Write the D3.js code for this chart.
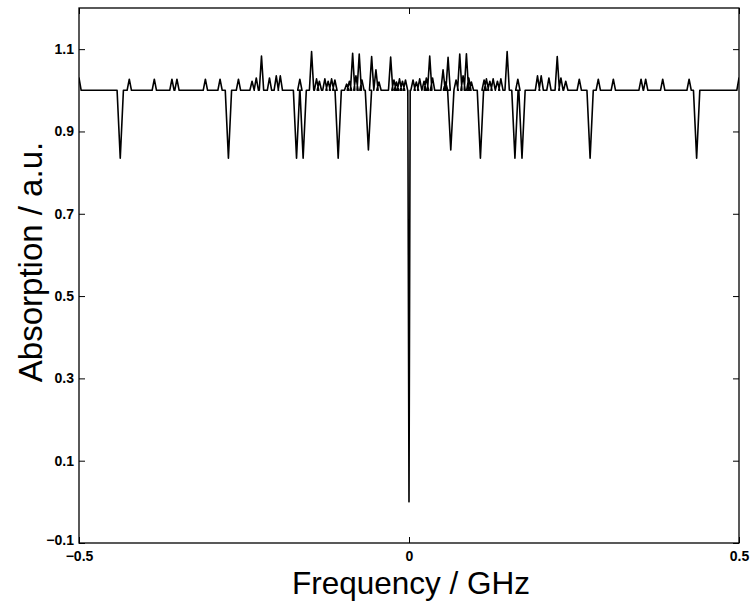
<!DOCTYPE html>
<html>
<head>
<meta charset="utf-8">
<script src="https://cdn.jsdelivr.net/npm/d3@7/dist/d3.min.js"></script>
<style>
  html, body { margin: 0; padding: 0; background: #fff; }
  svg { display: block; }
  .tick text { font-family: "Liberation Sans", Arial, sans-serif; font-weight: bold; font-size: 14px; fill: #000; }
  .title { font-family: "Liberation Sans", Arial, sans-serif; fill: #000; }
</style>
</head>
<body>
<svg id="chart" width="753" height="606"></svg>
<script>
// Absorption lines: positions (GHz) and peak absorption of each narrow line
const peakGHz = [
  -0.500, -0.4238, -0.3859, -0.3592, -0.3516, -0.3085, -0.2863, -0.2584,
  -0.2378, -0.2314, -0.2235, -0.2114, -0.2011, -0.1950, -0.1654, -0.1476,
  -0.1401, -0.1358, -0.1275, -0.1225, -0.1173, -0.1123, -0.0945, -0.0903,
  -0.0854, -0.0804, -0.0754, -0.0713, -0.0566, -0.0501, -0.0455, -0.0278,
  -0.0228, -0.0190, -0.0144, -0.0099, -0.0053,
  0.0061, 0.0111, 0.0162, 0.0228, 0.0263, 0.0314, 0.0357, 0.0516,
  0.0554, 0.0592, 0.0713, 0.0769, 0.0819, 0.0870, 0.0906, 0.0945,
  0.1138, 0.1173, 0.1225, 0.1275, 0.1340, 0.1392, 0.1487, 0.1649,
  0.1947, 0.2003, 0.2120, 0.2246, 0.2302, 0.2375, 0.2580, 0.2868,
  0.3096, 0.3516, 0.3586, 0.3844, 0.4244, 0.500
];
const peakAbs = [
  1.030, 1.027, 1.027, 1.027, 1.027, 1.027, 1.027, 1.027,
  1.022, 1.030, 1.083, 1.030, 1.035, 1.035, 1.027, 1.094,
  1.028, 1.022, 1.028, 1.022, 1.028, 1.025, 1.015, 1.022,
  1.090, 1.035, 1.088, 1.025, 1.082, 1.050, 1.020, 1.081,
  1.025, 1.020, 1.028, 1.022, 1.025,
  1.025, 1.020, 1.028, 1.022, 1.030, 1.083, 1.030, 1.050,
  1.020, 1.080, 1.025, 1.088, 1.035, 1.089, 1.030, 1.020,
  1.025, 1.028, 1.022, 1.028, 1.022, 1.028, 1.094, 1.027,
  1.035, 1.035, 1.030, 1.082, 1.030, 1.022, 1.027, 1.027,
  1.027, 1.027, 1.027, 1.027, 1.027, 1.030
];
// Sharp absorption dips
const dipGHz = [-0.4375, -0.2736, -0.1704, -0.1604, -0.1073, -0.0615, 0.0,
                0.0633, 0.1082, 0.1605, 0.1712, 0.2744, 0.4358];
const dipAbs = [0.835, 0.835, 0.835, 0.835, 0.835, 0.855, 0.0,
                0.855, 0.835, 0.835, 0.835, 0.835, 0.835];
const baseline = 1.0;

const xTicks = [-0.5, 0, 0.5];
const yTicks = [-0.1, 0.1, 0.3, 0.5, 0.7, 0.9, 1.1];

const svg = d3.select("#chart");
const plotL = 79, plotR = 739, plotT = 8, plotB = 543;

const x = d3.scaleLinear().domain([-0.5, 0.5]).range([plotL, plotR]);
const y = d3.scaleLinear().domain([-0.1, 1.2]).range([plotB, plotT]);

// line half-widths in GHz
const peakHW = 0.0033, dipHW = 0.0048, centerHW = 0.0018;

const lines = peakGHz.map((f, i) => ({ f, a: peakAbs[i], hw: peakHW }))
  .concat(dipGHz.map((f, i) => ({ f, a: dipAbs[i], hw: dipAbs[i] < 0.5 ? centerHW : dipHW })))
  .sort((p, q) => p.f - q.f);

const verts = [];
lines.forEach(l => {
  verts.push([l.f - l.hw, baseline]);
  verts.push([l.f, l.a]);
  verts.push([l.f + l.hw, baseline]);
});

svg.append("defs").append("clipPath").attr("id", "plot-clip")
  .append("rect").attr("x", plotL).attr("y", plotT)
  .attr("width", plotR - plotL).attr("height", plotB - plotT);

svg.append("path")
  .datum(verts)
  .attr("clip-path", "url(#plot-clip)")
  .attr("fill", "none")
  .attr("stroke", "#000")
  .attr("stroke-width", 1.6)
  .attr("stroke-linejoin", "round")
  .attr("d", d3.line().x(d => x(d[0])).y(d => y(d[1])));

const fmt = d3.format(".1f");

// Axes with inward ticks on all four sides
svg.append("g").attr("transform", `translate(${plotL},0)`)
  .call(d3.axisLeft(y).tickValues(yTicks).tickFormat(fmt).tickSize(-6).tickPadding(5))
  .call(g => g.select(".domain").remove())
  .call(g => g.selectAll(".tick text").filter(d => d < 0).attr("dy", "0.08em"));
svg.append("g").attr("transform", `translate(${plotR},0)`)
  .call(d3.axisRight(y).tickValues(yTicks).tickFormat("").tickSize(-6))
  .call(g => g.select(".domain").remove());
svg.append("g").attr("transform", `translate(0,${plotB})`)
  .call(d3.axisBottom(x).tickValues(xTicks).tickFormat(d => d === 0 ? "0" : fmt(d)).tickSize(-6).tickPadding(8))
  .call(g => g.select(".domain").remove());
svg.append("g").attr("transform", `translate(0,${plotT})`)
  .call(d3.axisTop(x).tickValues(xTicks).tickFormat("").tickSize(-6))
  .call(g => g.select(".domain").remove());

svg.selectAll(".tick line").attr("stroke", "#000").attr("stroke-width", 1);

svg.append("rect")
  .attr("x", plotL).attr("y", plotT)
  .attr("width", plotR - plotL).attr("height", plotB - plotT)
  .attr("fill", "none").attr("stroke", "#000").attr("stroke-width", 1.3);

svg.append("text").attr("class", "title")
  .attr("x", 411).attr("y", 594)
  .attr("text-anchor", "middle")
  .style("font-size", "31.5px")
  .text("Frequency / GHz");

svg.append("text").attr("class", "title")
  .attr("transform", "translate(42,262) rotate(-90)")
  .attr("text-anchor", "middle")
  .style("font-size", "33px")
  .text("Absorption / a.u.");
</script>
</body>
</html>
